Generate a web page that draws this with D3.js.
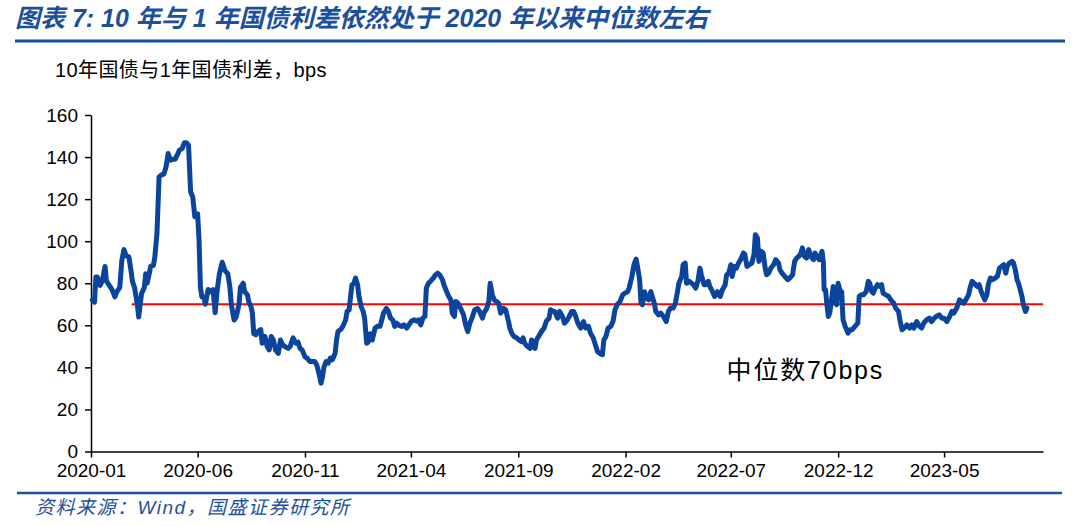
<!DOCTYPE html>
<html>
<head>
<meta charset="utf-8">
<script src="https://cdn.jsdelivr.net/npm/d3@7"></script>
<style>
  body { margin: 0; background: #fff; }
  text { font-family: "Liberation Sans", Arial, "Noto Sans CJK SC", sans-serif; }
</style>
</head>
<body>
<svg width="1080" height="526"></svg>
<script>
var titleText = "图表 7:  10 年与 1 年国债利差依然处于 2020 年以来中位数左右";
var unitLabel = "10年国债与1年国债利差，bps";
var sourceText = "资料来源：Wind，国盛证券研究所";
var medianLabel = "中位数70bps";

var yTicks = [0, 20, 40, 60, 80, 100, 120, 140, 160];
var xTicks = ["2020-01-01", "2020-06-01", "2020-11-01", "2021-04-01", "2021-09-01",
  "2022-02-01", "2022-07-01", "2022-12-01", "2023-05-01"];
var xDomain = ["2020-01-01", "2023-09-19"];
var median = 70;
var medianStart = "2020-02-28";

// 10y - 1y spread, bps
var spread = [
  ["2020-01-03",72],["2020-01-06",71],["2020-01-08",83],["2020-01-10",83],["2020-01-14",79],["2020-01-17",81],["2020-01-21",88],["2020-01-23",81],["2020-01-27",79],["2020-01-31",77],
  ["2020-02-04",73.5],["2020-02-07",76],["2020-02-11",78],["2020-02-14",91],["2020-02-17",96],["2020-02-20",93],["2020-02-24",92.5],["2020-02-27",86],["2020-02-29",81],
  ["2020-03-03",78],["2020-03-07",70],["2020-03-09",64],["2020-03-13",75],["2020-03-17",78],["2020-03-19",84.5],["2020-03-21",80],["2020-03-24",84.5],["2020-03-26",88],["2020-03-30",88.5],
  ["2020-04-01",92.5],["2020-04-04",103.5],["2020-04-06",121],["2020-04-07",130.6],["2020-04-10",131.4],["2020-04-14",132],["2020-04-17",135.4],["2020-04-20",141.7],["2020-04-23",138.5],["2020-04-27",139],["2020-04-30",139],
  ["2020-05-04",141.7],["2020-05-06",143.3],["2020-05-10",144],["2020-05-13",146.8],["2020-05-16",146.8],["2020-05-19",145.7],["2020-05-22",123.5],["2020-05-25",121],["2020-05-28",111.6],
  ["2020-06-01",113],["2020-06-03",100.5],["2020-06-05",78],["2020-06-07",73.5],["2020-06-10",73.5],["2020-06-12",70],["2020-06-16",77],["2020-06-20",76],["2020-06-23",77],["2020-06-26",66],["2020-06-29",77],
  ["2020-07-02",84.5],["2020-07-06",90],["2020-07-10",86],["2020-07-14",84.5],["2020-07-17",78],["2020-07-19",70],["2020-07-23",62.5],["2020-07-26",64],["2020-07-30",70],
  ["2020-08-01",78],["2020-08-05",80],["2020-08-07",76],["2020-08-11",74.5],["2020-08-13",71],["2020-08-16",69],["2020-08-18",66],["2020-08-20",56],["2020-08-23",55.5],["2020-08-26",57],["2020-08-30",58],
  ["2020-09-01",51.5],["2020-09-05",54.7],["2020-09-08",50],["2020-09-11",48.3],["2020-09-14",54.7],["2020-09-17",53],["2020-09-20",48.3],["2020-09-24",46.7],["2020-09-27",53],["2020-09-30",50.7],
  ["2020-10-03",50],["2020-10-08",49],["2020-10-11",50],["2020-10-15",54],["2020-10-19",51.5],["2020-10-22",52],["2020-10-25",49],["2020-10-28",48.3],
  ["2020-11-01",45],["2020-11-04",44.4],["2020-11-08",42.8],["2020-11-12",42.8],["2020-11-15",42.8],["2020-11-18",41],["2020-11-21",37],["2020-11-24",32.5],["2020-11-26",35.6],["2020-11-28",40],
  ["2020-12-01",42.8],["2020-12-04",42],["2020-12-07",44.4],["2020-12-10",43.6],["2020-12-14",46.7],["2020-12-16",53],["2020-12-18",57],["2020-12-22",58],["2020-12-25",59.5],["2020-12-29",62.6],["2020-12-31",66.6],
  ["2021-01-03",67.4],["2021-01-05",73.7],["2021-01-07",79.3],["2021-01-10",80],["2021-01-12",82.5],["2021-01-15",79.3],["2021-01-17",73.7],["2021-01-20",69],["2021-01-23",66.6],["2021-01-25",63.4],["2021-01-28",51.5],["2021-01-30",52],
  ["2021-02-02",56],["2021-02-05",53],["2021-02-09",58.7],["2021-02-12",59.5],["2021-02-16",59.5],["2021-02-18",62],["2021-02-21",65.8],["2021-02-25",68],["2021-02-28",66.6],
  ["2021-03-03",63.4],["2021-03-06",62.6],["2021-03-09",59.5],["2021-03-12",61],["2021-03-15",60],["2021-03-19",59.5],["2021-03-22",60.2],["2021-03-26",58.7],["2021-03-29",60.2],
  ["2021-04-02",62],["2021-04-06",62.6],["2021-04-09",62],["2021-04-12",62.6],["2021-04-15",60.2],["2021-04-18",63.4],["2021-04-21",64.2],["2021-04-23",77.7],["2021-04-26",80],["2021-04-29",81],
  ["2021-05-03",82.5],["2021-05-06",84],["2021-05-09",84.8],["2021-05-12",84],["2021-05-16",81.7],["2021-05-18",79.3],["2021-05-22",76],["2021-05-25",73.7],["2021-05-28",72],["2021-05-30",65.8],
  ["2021-06-02",64.2],["2021-06-04",71.3],["2021-06-07",70.5],["2021-06-11",68],["2021-06-15",65],["2021-06-18",60.2],["2021-06-21",57],["2021-06-24",61],["2021-06-27",63.4],
  ["2021-07-01",67.4],["2021-07-05",68],["2021-07-08",66.6],["2021-07-12",63.4],["2021-07-14",65.8],["2021-07-18",68],["2021-07-21",71.3],["2021-07-23",80],["2021-07-26",74.5],["2021-07-29",72],
  ["2021-08-01",71.3],["2021-08-04",70.5],["2021-08-07",65.8],["2021-08-11",68],["2021-08-14",67.4],["2021-08-18",62],["2021-08-20",58.7],["2021-08-23",56],["2021-08-26",54.7],["2021-08-30",54],
  ["2021-09-02",53],["2021-09-05",52.3],["2021-09-08",54],["2021-09-10",51.5],["2021-09-14",50],["2021-09-18",49],["2021-09-20",53],["2021-09-22",50.7],["2021-09-25",49],["2021-09-27",53],["2021-09-30",54.7],
  ["2021-10-04",57],["2021-10-08",58.7],["2021-10-11",62],["2021-10-15",63.4],["2021-10-17",67.4],["2021-10-21",66.6],["2021-10-23",66.6],["2021-10-27",63.4],["2021-10-30",66.6],
  ["2021-11-03",64.2],["2021-11-06",61],["2021-11-10",62.6],["2021-11-14",65],["2021-11-16",66.6],["2021-11-19",66.6],["2021-11-22",64.2],["2021-11-25",61],["2021-11-29",58.7],
  ["2021-12-03",61.8],["2021-12-06",58.7],["2021-12-10",59.5],["2021-12-13",56.3],["2021-12-17",53.9],["2021-12-20",50.7],["2021-12-23",47.5],["2021-12-26",46.7],["2021-12-30",46],
  ["2022-01-01",53],["2022-01-04",54.7],["2022-01-07",58.7],["2022-01-11",59.5],["2022-01-14",61.8],["2022-01-17",67.4],["2022-01-20",69.8],["2022-01-24",71.3],["2022-01-28",74.5],["2022-01-31",75.3],
  ["2022-02-04",76],["2022-02-06",77.7],["2022-02-10",83.2],["2022-02-13",88.8],["2022-02-16",91.5],["2022-02-18",88],["2022-02-21",81.7],["2022-02-23",70.5],["2022-02-25",69.8],["2022-02-28",76],
  ["2022-03-03",72.9],["2022-03-06",72.1],["2022-03-09",76],["2022-03-11",73.7],["2022-03-14",70.5],["2022-03-16",66.6],["2022-03-20",65],["2022-03-23",65.8],["2022-03-27",64.2],["2022-03-31",61.8],
  ["2022-04-03",66.6],["2022-04-06",68.2],["2022-04-10",68.2],["2022-04-13",70.5],["2022-04-16",76],["2022-04-18",80],["2022-04-22",83.2],["2022-04-24",88.8],["2022-04-27",89.6],["2022-04-29",80],
  ["2022-05-03",80.9],["2022-05-06",80],["2022-05-09",79.3],["2022-05-12",77.7],["2022-05-15",80.9],["2022-05-18",87.2],["2022-05-20",84],["2022-05-24",79.3],["2022-05-26",79.3],["2022-05-30",80.9],
  ["2022-06-01",78.5],["2022-06-05",76],["2022-06-08",73.7],["2022-06-12",76],["2022-06-16",73.7],["2022-06-19",76.9],["2022-06-23",79.3],["2022-06-25",84],["2022-06-28",84.8],
  ["2022-07-01",88.8],["2022-07-03",83.2],["2022-07-06",88],["2022-07-09",87.2],["2022-07-12",89.6],["2022-07-15",91.2],["2022-07-19",94.4],["2022-07-21",93.6],["2022-07-24",88],["2022-07-27",88.8],["2022-07-31",89.6],
  ["2022-08-03",93.6],["2022-08-05",103.1],["2022-08-08",101.5],["2022-08-10",90.4],["2022-08-13",95.2],["2022-08-16",94.4],["2022-08-19",87.2],["2022-08-21",84],["2022-08-24",84.8],["2022-08-27",87.2],["2022-08-31",88.8],
  ["2022-09-03",91.2],["2022-09-07",89.6],["2022-09-09",86.4],["2022-09-12",84.8],["2022-09-16",83.2],["2022-09-20",81.7],["2022-09-23",82.5],["2022-09-27",84],["2022-09-30",90.4],
  ["2022-10-03",92],["2022-10-06",92.8],["2022-10-09",94.4],["2022-10-11",96.8],["2022-10-14",92.8],["2022-10-17",92],["2022-10-20",96],["2022-10-23",92.8],["2022-10-27",91.2],["2022-10-29",94.4],
  ["2022-11-01",92.8],["2022-11-04",91.2],["2022-11-08",95.2],["2022-11-10",89.6],["2022-11-11",76.9],["2022-11-13",76.9],["2022-11-15",69.8],["2022-11-17",64.2],["2022-11-19",65.8],["2022-11-22",72.9],["2022-11-24",78.5],["2022-11-27",72.1],["2022-11-29",69.8],
  ["2022-12-01",80],["2022-12-04",76],["2022-12-06",76],["2022-12-08",62.6],["2022-12-11",59.5],["2022-12-15",56.3],["2022-12-18",57.9],["2022-12-21",57.9],["2022-12-25",59.5],["2022-12-29",61],["2022-12-31",73.7],
  ["2023-01-03",74.5],["2023-01-06",74.5],["2023-01-10",76],["2023-01-13",80.9],["2023-01-15",80],["2023-01-18",76],["2023-01-20",75.3],["2023-01-23",77.7],["2023-01-26",79.3],["2023-01-29",78.5],
  ["2023-02-01",79.3],["2023-02-03",75.3],["2023-02-07",74.5],["2023-02-11",73.7],["2023-02-14",72.1],["2023-02-18",70.6],["2023-02-21",68.2],["2023-02-25",66.6],["2023-02-27",62.6],
  ["2023-03-02",57.9],["2023-03-05",58.7],["2023-03-09",60.2],["2023-03-13",58.7],["2023-03-16",60.2],["2023-03-19",58.7],["2023-03-23",61.8],["2023-03-27",59.4],["2023-03-30",58.7],
  ["2023-04-02",61],["2023-04-06",62.6],["2023-04-10",63.4],["2023-04-13",61.8],["2023-04-17",63.4],["2023-04-20",64.2],["2023-04-24",65],["2023-04-28",63.4],
  ["2023-05-01",63.4],["2023-05-05",61.8],["2023-05-09",64.2],["2023-05-12",66.6],["2023-05-15",65.8],["2023-05-19",68.2],["2023-05-23",72.1],["2023-05-26",71.3],["2023-05-29",70.5],
  ["2023-06-01",72.1],["2023-06-05",74.5],["2023-06-07",77.7],["2023-06-10",80.9],["2023-06-13",80],["2023-06-17",78.5],["2023-06-20",79.3],["2023-06-23",76],["2023-06-26",73.7],["2023-06-28",72.1],
  ["2023-07-01",74.5],["2023-07-03",79.3],["2023-07-06",82.5],["2023-07-09",81.7],["2023-07-13",82.5],["2023-07-16",83.3],["2023-07-19",87.2],["2023-07-22",88],["2023-07-25",88.8],["2023-07-28",84.8],["2023-07-30",88],
  ["2023-08-02",89.6],["2023-08-06",90.4],["2023-08-08",89.6],["2023-08-11",85.6],["2023-08-13",81.7],["2023-08-15",80],["2023-08-17",77.7],["2023-08-20",73.7],["2023-08-22",69.8],["2023-08-25",66.6],["2023-08-27",68.2]
];

var svg = d3.select("svg");
var margin = { top: 115, right: 37, bottom: 74.5, left: 91 };
var width = +svg.attr("width") - margin.left - margin.right;
var height = +svg.attr("height") - margin.top - margin.bottom;
var blue = "#1c4f9c";

var parseDate = d3.timeParse("%Y-%m-%d");
var formatMonth = d3.timeFormat("%Y-%m");

var data = spread.map(function(d) { return { date: parseDate(d[0]), value: d[1] }; });

var x = d3.scaleTime()
  .domain(xDomain.map(parseDate))
  .range([0, width]);

var y = d3.scaleLinear()
  .domain([0, 160])
  .range([height, 0]);

// title + rules
svg.append("text")
  .attr("x", 15)
  .attr("y", 27)
  .attr("fill", blue)
  .style("font-size", "25px")
  .style("font-weight", "bold")
  .style("font-style", "italic")
  .text(titleText);

svg.append("line")
  .attr("x1", 15).attr("x2", 1065)
  .attr("y1", 41).attr("y2", 41)
  .attr("stroke", blue)
  .attr("stroke-width", 3);

svg.append("text")
  .attr("x", 55)
  .attr("y", 77)
  .style("font-size", "20px")
  .style("letter-spacing", "0.4px")
  .text(unitLabel);

var g = svg.append("g")
  .attr("transform", "translate(" + margin.left + "," + margin.top + ")");

// Y-axis
g.append("g")
  .attr("class", "axis axis--y")
  .call(d3.axisLeft(y).tickValues(yTicks).tickSize(6).tickSizeOuter(0))
  .call(function(a) {
    a.selectAll("text").style("font-size", "19px").attr("fill", "#000").attr("x", -13);
    a.selectAll("line, path").attr("stroke", "#000").attr("stroke-width", 1.5);
  });

// X-axis
g.append("g")
  .attr("class", "axis axis--x")
  .attr("transform", "translate(0," + height + ")")
  .call(d3.axisBottom(x).tickValues(xTicks.map(parseDate)).tickFormat(formatMonth).tickSize(6).tickSizeOuter(0))
  .call(function(a) {
    a.selectAll("text").style("font-size", "19px").attr("fill", "#000").attr("y", 12);
    a.selectAll("line, path").attr("stroke", "#000").attr("stroke-width", 1.5);
  });

// median line
g.append("line")
  .attr("x1", x(parseDate(medianStart)))
  .attr("x2", width)
  .attr("y1", y(median))
  .attr("y2", y(median))
  .attr("stroke", "#ff0000")
  .attr("stroke-width", 2);

var line = d3.line()
  .x(function(d) { return x(d.date); })
  .y(function(d) { return y(d.value); });

g.append("path")
  .datum(data)
  .attr("fill", "none")
  .attr("stroke", "#0a449c")
  .attr("stroke-width", 5)
  .attr("stroke-linejoin", "round")
  .attr("stroke-linecap", "round")
  .attr("d", line);

g.append("text")
  .attr("x", x(parseDate("2022-06-25")))
  .attr("y", y(34.5))
  .style("font-size", "25px")
  .style("letter-spacing", "1.8px")
  .text(medianLabel);

// source
svg.append("line")
  .attr("x1", 17).attr("x2", 1062)
  .attr("y1", 493).attr("y2", 493)
  .attr("stroke", blue)
  .attr("stroke-width", 2.5);

svg.append("text")
  .attr("x", 35)
  .attr("y", 514)
  .attr("fill", blue)
  .style("font-size", "19px")
  .style("font-style", "italic")
  .style("letter-spacing", "1.5px")
  .text(sourceText);
</script>
</body>
</html>
